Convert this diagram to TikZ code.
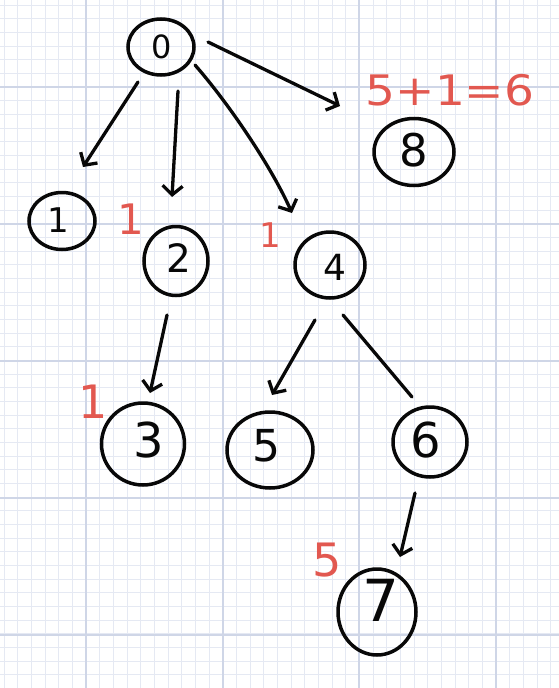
\documentclass[tikz,border=0pt]{standalone}
\usepackage{fontspec}
\setmainfont{DejaVu Sans}
\usetikzlibrary{arrows.meta,shapes.geometric,calc}
\definecolor{gridminor}{RGB}{229,233,243}
\definecolor{gridmajor}{RGB}{207,214,231}
\definecolor{ink}{RGB}{8,8,8}
\definecolor{redpen}{RGB}{226,88,80}
\newcommand\myfs[1]{\fontsize{#1}{#1}\selectfont}
\tikzset{
  vert/.style={draw=ink, ellipse, line width=3.5pt, inner sep=0pt},
  digit/.style={text=ink, inner sep=0pt},
  note/.style={text=redpen, inner sep=0pt},
  arr/.style={draw=ink, line width=3.3pt, line cap=round, line join=round,
    -{Straight Barb[length=9pt,width=20pt,line width=3.3pt]}},
  edge/.style={draw=ink, line width=3.3pt, line cap=round},
  minorline/.style={draw=gridminor, line width=1pt},
  majorline/.style={draw=gridmajor, line width=1.4pt}
}
\begin{document}
\begin{tikzpicture}[x=1pt,y=-1pt]
\fill[white] (0,0) rectangle (559,688);
\useasboundingbox (0,0) rectangle (559,688);
% grid paper
\foreach \i in {0,...,40} {
  \draw[minorline] ({4+\i*13.667},0) -- ({4+\i*13.667},688);
}
\foreach \i in {0,...,50} {
  \draw[minorline] (0,{5+\i*13.667}) -- (559,{5+\i*13.667});
}
\foreach \x in {86,223,359,496} { \draw[majorline] (\x,0) -- (\x,688); }
\foreach \y in {87,224,361,498,635} { \draw[majorline] (0,\y) -- (559,\y); }

% vertices
\node[vert, minimum width=66pt, minimum height=56pt] (n0) at (161,47) {};
\node[vert, minimum width=66pt, minimum height=57pt] (n1) at (62,221) {};
\node[vert, minimum width=64pt, minimum height=69pt] (n2) at (176,261) {};
\node[vert, minimum width=83pt, minimum height=82pt] (n3) at (143,444) {};
\node[vert, minimum width=70pt, minimum height=66pt] (n4) at (330,265) {};
\node[vert, minimum width=86pt, minimum height=76pt] (n5) at (270,450) {};
\node[vert, minimum width=74pt, minimum height=70pt] (n6) at (430,442) {};
\node[vert, minimum width=78pt, minimum height=86pt] (n7) at (377,612) {};
\node[vert, minimum width=80pt, minimum height=67pt] (n8) at (414,152) {};

% digits
\node[digit, font=\myfs{32}] (d0) at ($(n0)+(1,0)$) {0};
\node[digit, font=\myfs{34}] (d1) at ($(n1)+(-4,-1)$) {1};
\node[digit, font=\myfs{39}] (d2) at ($(n2)+(3,-3)$) {2};
\node[digit, font=\myfs{48}] (d3) at ($(n3)+(6,-4)$) {3};
\node[digit, font=\myfs{36}] (d4) at ($(n4)+(5,2)$) {4};
\node[digit, font=\myfs{44}] (d5) at ($(n5)+(-4,-4)$) {5};
\node[digit, font=\myfs{48}] (d6) at ($(n6)+(-4,-2)$) {6};
\node[digit, font=\myfs{58}] (d7) at ($(n7)+(4,-12)$) {7};
\node[digit, font=\myfs{45}] (d8) at ($(n8)+(0,-2)$) {8};

% red notes
\node[note, font=\myfs{42}] (r2) at (131,219) {1};
\node[note, font=\myfs{34}] (r4) at (270,235) {1};
\node[note, font=\myfs{46}] (r3) at (93,402) {1};
\node[note, font=\myfs{46}] (r7) at (327,560) {5};
\node[note, font=\myfs{42}, xscale=1.12] (r8) at (450,90) {5+1=6};

% connectors
\draw[arr] ($(n0)+(-23,35)$) -- ($(n1)+(21,-54)$);
\draw[arr] ($(n0)+(17,44)$) -- ($(n2)+(-4,-64)$);
\draw[arr] ($(n0)+(34,18)$) .. controls ($(n0)+(69,58)$) and ($(n4)+(-58,-97)$) .. ($(n4)+(-38,-52)$);
\draw[arr] ($(n0)+(47,-5)$) -- ($(n8)+(-74,-46)$);
\draw[arr] ($(n2)+(-9,54)$) -- ($(n3)+(7,-51)$);
\draw[arr] ($(n4)+(-15,55)$) -- ($(n5)+(2,-55)$);
\draw[edge] ($(n4)+(13,50)$) -- ($(n6)+(-18,-45)$);
\draw[arr] ($(n6)+(-15,51)$) -- ($(n7)+(23,-55)$);
\end{tikzpicture}
\end{document}
